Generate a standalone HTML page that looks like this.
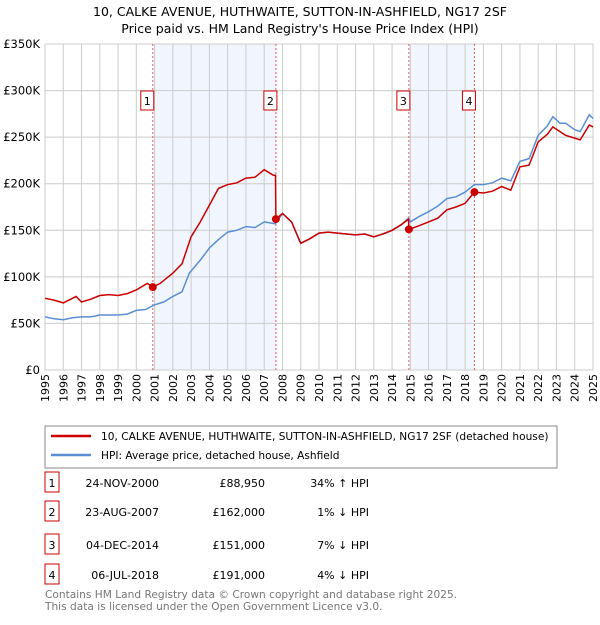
<!DOCTYPE html>
<html><head><meta charset="utf-8"><style>
body{margin:0;background:#fff;font-family:"Liberation Sans","DejaVu Sans",sans-serif;}
svg text{font-family:"DejaVu Sans","Liberation Sans",sans-serif;}
</style></head><body>
<svg id="c" width="600" height="620" xmlns="http://www.w3.org/2000/svg">
<text x="300" y="16" text-anchor="middle" font-size="12.5" fill="#000">10, CALKE AVENUE, HUTHWAITE, SUTTON-IN-ASHFIELD, NG17 2SF</text>
<text x="300" y="33" text-anchor="middle" font-size="12.5" fill="#000">Price paid vs. HM Land Registry's House Price Index (HPI)</text>
<g id="plot"></g>
<rect x="45" y="426" width="512" height="42" fill="#fff" stroke="#888"/>
<line x1="51" y1="436" x2="91" y2="436" stroke="#cc0000" stroke-width="2.5"/>
<text x="101" y="440" font-size="10.6">10, CALKE AVENUE, HUTHWAITE, SUTTON-IN-ASHFIELD, NG17 2SF (detached house)</text>
<line x1="51" y1="455" x2="91" y2="455" stroke="#5b8fd4" stroke-width="2.5"/>
<text x="101" y="459" font-size="10.6">HPI: Average price, detached house, Ashfield</text>
<g id="table" font-size="11"></g>
<text x="45" y="598" font-size="10.6" fill="#777">Contains HM Land Registry data © Crown copyright and database right 2025.</text>
<text x="45" y="610" font-size="10.6" fill="#777">This data is licensed under the Open Government Licence v3.0.</text>
</svg>
<script>
const hpiYears=[1995,1995.5,1996,1996.5,1997,1997.5,1998,1998.5,1999,1999.5,2000,2000.5,2001,2001.5,2002,2002.5,2002.9,2003.5,2004,2004.5,2005,2005.5,2006,2006.5,2007,2007.6,2008,2008.5,2009,2009.5,2010,2010.5,2011,2011.5,2012,2012.5,2013,2013.5,2014,2014.5,2014.9,2015,2015.5,2016,2016.5,2017,2017.5,2018,2018.5,2019,2019.5,2020,2020.5,2021,2021.5,2022,2022.5,2022.8,2023.2,2023.5,2024,2024.3,2024.8,2025];
const hpiValues=[57,55,54,56,57,57,59,59,59,60,64,65,70,73,79,84,104,118,131,140,148,150,154,153,159,157,168,159,136,141,147,148,147,146,145,146,143,146,150,156,163,159,165,170,176,184,186,191,199,199,201,206,203,224,227,252,262,272,265,265,258,256,274,270];
const propYears=[1995,1995.5,1996,1996.7,1997,1997.5,1998,1998.5,1999,1999.5,2000,2000.6,2000.9,2001.3,2002,2002.5,2003,2003.5,2004,2004.5,2005,2005.5,2006,2006.5,2007,2007.5,2007.62,2007.64,2008,2008.5,2009,2009.5,2010,2010.5,2011,2011.5,2012,2012.5,2013,2013.5,2014,2014.5,2014.9,2014.92,2015.5,2016,2016.5,2017,2017.5,2018,2018.51,2019,2019.5,2020,2020.5,2021,2021.5,2022,2022.5,2022.8,2023.5,2024,2024.3,2024.8,2025];
const propValues=[77,75,72,79,73,76,80,81,80,82,86,93,89,93,104,114,143,159,177,195,199,201,206,207,215,209,209,162,168,159,136,141,147,148,147,146,145,146,143,146,150,156,162,151,155,159,163,172,175,179,191,190,192,197,193,218,220,245,253,261,252,249,247,263,261];
const saleYears=[2000.9,2007.64,2014.92,2018.51];
const saleValues=[88.95,162,151,191];
const saleLabels=["1","2","3","4"];
const saleDates=["24-NOV-2000","23-AUG-2007","04-DEC-2014","06-JUL-2018"];
const salePrices=["£88,950","£162,000","£151,000","£191,000"];
const saleDiffs=["34% ↑ HPI","1% ↓ HPI","7% ↓ HPI","4% ↓ HPI"];
const yTicks=[0,50,100,150,200,250,300,350];
const yTickLabels=["£0","£50K","£100K","£150K","£200K","£250K","£300K","£350K"];

const NS="http://www.w3.org/2000/svg";
const X0=45,X1=593,Y0=370,Y1=44;
const xs=y=>X0+(y-1995)/30*(X1-X0);
const ys=v=>Y0-v/350*(Y0-Y1);
const plot=document.getElementById('plot');
function mk(tag,attrs,parent){const e=document.createElementNS(NS,tag);for(const k in attrs)e.setAttribute(k,attrs[k]);(parent||plot).appendChild(e);return e;}
for(let i=0;i<4;i+=2){const r=mk('rect',{x:xs(saleYears[i]),y:Y1,width:xs(saleYears[i+1])-xs(saleYears[i]),height:Y0-Y1,fill:'#eef3fc',opacity:0.8});

}
for(let yr=1995;yr<=2025;yr++){const l=mk('line',{x1:xs(yr),x2:xs(yr),y1:Y1,y2:Y0,stroke:'#cccccc','stroke-width':1});


const t=mk('text',{x:0,y:0,'font-size':11,'text-anchor':'end',transform:`translate(${xs(yr)+4},374) rotate(-90)`});t.textContent=yr;

}
yTicks.forEach((v,i)=>{const l=mk('line',{x1:X0,x2:X1,y1:ys(v),y2:ys(v),stroke:'#cccccc','stroke-width':1});


const t=mk('text',{x:40,y:ys(v)+4,'font-size':11.5,'text-anchor':'end'});t.textContent=yTickLabels[i];

});
const fr=mk('rect',{x:X0,y:Y1,width:X1-X0,height:Y0-Y1,fill:'none',stroke:'#cccccc'});


saleYears.forEach(y=>{const l=mk('line',{x1:xs(y),x2:xs(y),y1:Y1,y2:Y0,stroke:'#e06060','stroke-dasharray':'2,2','stroke-width':1});

});
function path(xa,va){return xa.map((y,i)=>(i?'L':'M')+xs(y).toFixed(1)+','+ys(va[i]).toFixed(1)).join('');}
const hp=mk('path',{d:path(hpiYears,hpiValues),fill:'none',stroke:'#5b8fd4','stroke-width':1.5});


const pp=mk('path',{d:path(propYears,propValues),fill:'none',stroke:'#cc0000','stroke-width':1.5});


saleYears.forEach((y,i)=>{const c=mk('circle',{cx:xs(y),cy:ys(saleValues[i]),r:4,fill:'#cc0000'});


const b=mk('rect',{x:xs(y)-12,y:91,width:13,height:19,fill:'#fff',stroke:'#cc0000'});


const t=mk('text',{x:xs(y)-5.5,y:105,'font-size':11,'text-anchor':'middle'});t.textContent=saleLabels[i];

});
const tb=document.getElementById('table');
const rowY=[483,512,545,575];
saleLabels.forEach((s,i)=>{const y=rowY[i];
const b=mk('rect',{x:45,y:y-11,width:14,height:20,fill:'#fff',stroke:'#cc0000'},tb);


const t0=mk('text',{x:52,y:y+4,'text-anchor':'middle'},tb);t0.textContent=s;


const t1=mk('text',{x:159,y:y+4,'text-anchor':'end'},tb);t1.textContent=saleDates[i];


const t2=mk('text',{x:265,y:y+4,'text-anchor':'end'},tb);t2.textContent=salePrices[i];


const t3=mk('text',{x:369,y:y+4,'text-anchor':'end'},tb);t3.textContent=saleDiffs[i];

});
</script>
</body></html>
